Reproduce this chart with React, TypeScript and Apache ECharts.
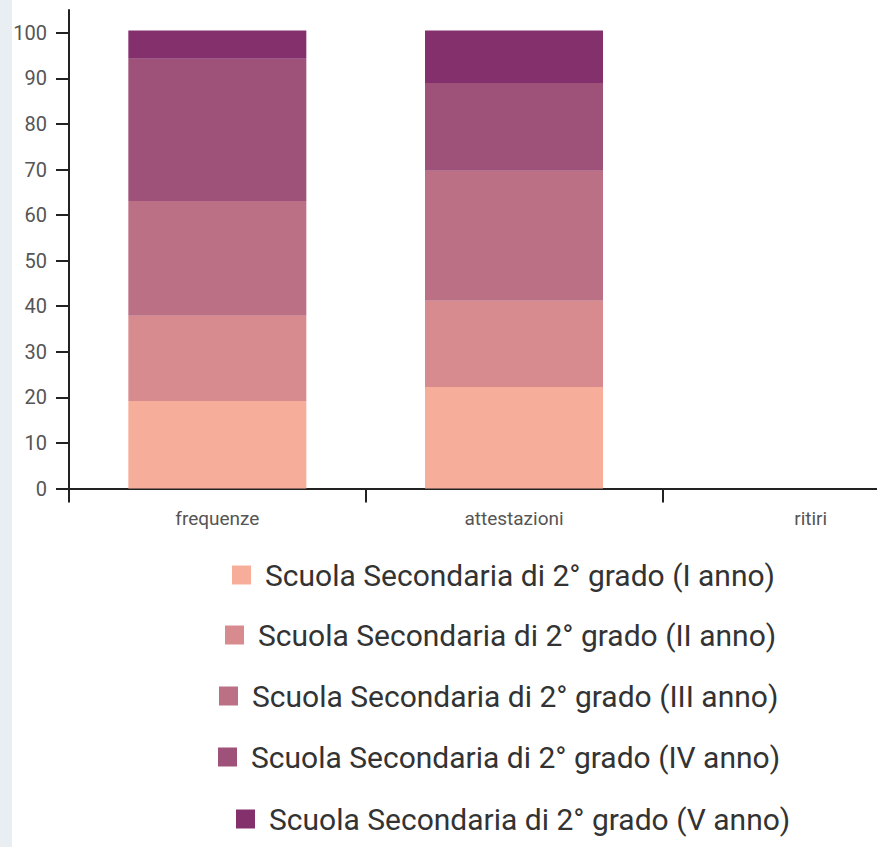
import React, { useEffect, useRef } from "react";
import * as echarts from "echarts";

const categories = ["frequenze", "attestazioni", "ritiri"];
const seriesNames = [
  "Scuola Secondaria di 2° grado (I anno)",
  "Scuola Secondaria di 2° grado (II anno)",
  "Scuola Secondaria di 2° grado (III anno)",
  "Scuola Secondaria di 2° grado (IV anno)",
  "Scuola Secondaria di 2° grado (V anno)",
];
const annoI = [19.2, 22.3, 0];
const annoII = [18.7, 18.9, 0];
const annoIII = [25.2, 28.5, 0];
const annoIV = [31.2, 19.3, 0];
const annoV = [6.2, 11.5, 0];
const yTicks = [0, 10, 20, 30, 40, 50, 60, 70, 80, 90, 100];

const colors = ["#f6ae9b", "#d78b8f", "#bb7085", "#9e5179", "#84306c"];
const legendLeft = [232, 225, 219, 218, 236];
const legendTop = [560, 620, 681, 742, 804];

export default function App() {
  const ref = useRef<HTMLDivElement>(null);
  useEffect(() => {
    if (!ref.current) return;
    const chart = echarts.init(ref.current, null, { renderer: "svg" });
    const values = [annoI, annoII, annoIII, annoIV, annoV];
    chart.setOption({
      animation: false,
      backgroundColor: "#ffffff",
      graphic: [
        {
          type: "rect",
          left: 0,
          top: 0,
          shape: { x: 0, y: 0, width: 12, height: 847 },
          style: { fill: "#e8eef2" },
          z: -10,
        },
      ],
      grid: { left: 69, top: 10, right: 0, height: 478.5, containLabel: false },
      legend: seriesNames.map((n, i) => ({
        data: [n],
        orient: "horizontal",
        left: legendLeft[i],
        top: legendTop[i],
        padding: 0,
        icon: "rect",
        itemWidth: 19,
        itemHeight: 19,
        selectedMode: false,
        textStyle: {
          fontFamily: "Roboto",
          fontSize: 30,
          color: "#333333",
          padding: [0, 0, 0, 9],
        },
      })),
      xAxis: {
        type: "category",
        data: categories,
        boundaryGap: true,
        axisLine: { show: true, lineStyle: { color: "#222222", width: 2 } },
        axisTick: { show: true, length: 14, lineStyle: { color: "#222222", width: 2 } },
        axisLabel: {
          margin: 20,
          fontFamily: "Roboto",
          fontSize: 19,
          color: "#555555",
        },
        splitLine: { show: false },
      },
      yAxis: {
        type: "value",
        min: 0,
        max: 105,
        interval: 10,
        axisLine: { show: true, lineStyle: { color: "#222222", width: 2 } },
        axisTick: {
          show: true,
          length: 13,
          customValues: yTicks,
          lineStyle: { color: "#222222", width: 2 },
        },
        axisLabel: {
          customValues: yTicks,
          margin: 22,
          fontFamily: "Roboto",
          fontSize: 20,
          color: "#555555",
        },
        splitLine: { show: false },
      },
      series: seriesNames.map((n, i) => ({
        name: n,
        type: "bar",
        stack: "total",
        barWidth: "60%",
        data: values[i],
        itemStyle: { color: colors[i] },
      })),
    });
    return () => chart.dispose();
  }, []);
  return (
    <div
      style={{
        position: "fixed",
        left: 0,
        top: 0,
        width: 877,
        height: 847,
        overflow: "hidden",
        background: "#ffffff",
      }}
    >
      <div ref={ref} style={{ width: 959, height: 847 }} />
    </div>
  );
}
